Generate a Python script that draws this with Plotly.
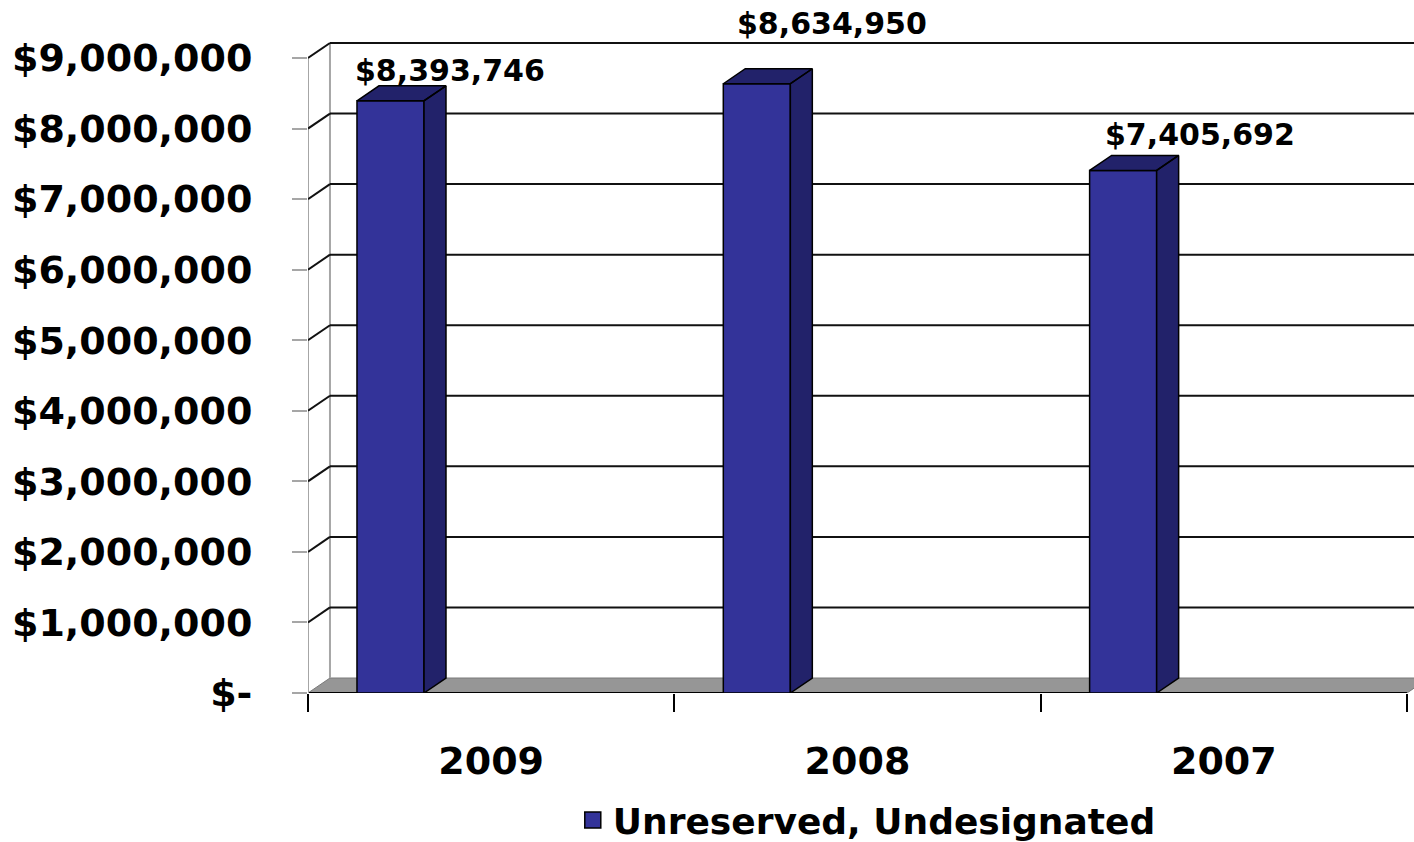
import plotly.graph_objects as go

# ---- data -------------------------------------------------------------
years = ["2009", "2008", "2007"]
balances = [8393746, 8634950, 7405692]
series_name = "Unreserved, Undesignated"

y_ticks = [0, 1000000, 2000000, 3000000, 4000000, 5000000,
           6000000, 7000000, 8000000, 9000000]
y_tick_text = ["$-"] + [f"${v:,}" for v in y_ticks[1:]]

# ---- pseudo-3D geometry (axis units) ----------------------------------
X_MAX = 3.0192          # right edge of the plotting area
Y_MAX = 9822000         # top edge of the plotting area
BAR_OFFSET = 0.2252     # bar centre within each category slot
BAR_WIDTH = 0.183
DEPTH_X = 0.06          # horizontal depth of the back wall
DEPTH_Y = 212600        # vertical depth of the back wall

# value-label placement: horizontal offset (axis units), lift (px)
label_dx = [0.162, 0.205, 0.209]
label_lift = [30, 60, 36]

FRONT = "#333399"
SHADE = "#22226a"
FLOOR = "#969696"
WALL_EDGE = "#a6a6a6"
GRID = "#111111"
FONT = "DejaVu Sans"

fig = go.Figure()

# front faces of the columns
bar_x = [i + BAR_OFFSET for i in range(len(years))]
fig.add_trace(go.Bar(
    x=bar_x, y=balances, width=BAR_WIDTH,
    marker=dict(color=FRONT, line=dict(color="black", width=1.5)),
    showlegend=False, hoverinfo="skip",
))

# side and top faces of the columns
for xc, v in zip(bar_x, balances):
    xl, xr = xc - BAR_WIDTH / 2, xc + BAR_WIDTH / 2
    xs = [xr, xr + DEPTH_X, xr + DEPTH_X, xr, xr, None,
          xl, xl + DEPTH_X, xr + DEPTH_X, xr, xl]
    ys = [0, DEPTH_Y, v + DEPTH_Y, v, 0, None,
          v, v + DEPTH_Y, v + DEPTH_Y, v, v]
    fig.add_trace(go.Scatter(
        x=xs, y=ys, mode="lines", fill="toself", fillcolor=SHADE,
        line=dict(color="black", width=1.5),
        showlegend=False, hoverinfo="skip",
    ))

# legend entry
fig.add_trace(go.Scatter(
    x=[None], y=[None], mode="markers", name=series_name,
    marker=dict(symbol="square", size=19, color=FRONT,
                line=dict(color="black", width=1.5)),
))

shapes = []
# floor slab
shapes.append(dict(
    type="path", xref="x", yref="y", layer="below",
    path=f"M 0,0 L 3,0 L {3 + DEPTH_X},{DEPTH_Y} L {DEPTH_X},{DEPTH_Y} Z",
    fillcolor=FLOOR, line=dict(color="#7a7a7a", width=1),
))
shapes.append(dict(type="line", xref="x", yref="y", layer="below",
                   x0=0, y0=0, x1=3, y1=0,
                   line=dict(color="black", width=2)))
# left wall edges
shapes.append(dict(type="line", xref="x", yref="y", layer="below",
                   x0=0, y0=0, x1=0, y1=y_ticks[-1],
                   line=dict(color=WALL_EDGE, width=2)))
shapes.append(dict(type="line", xref="x", yref="y", layer="below",
                   x0=DEPTH_X, y0=DEPTH_Y, x1=DEPTH_X,
                   y1=y_ticks[-1] + DEPTH_Y,
                   line=dict(color=WALL_EDGE, width=2)))
# gridlines on the left and back walls
for v in y_ticks[1:]:
    shapes.append(dict(type="line", xref="x", yref="y", layer="below",
                       x0=0, y0=v, x1=DEPTH_X, y1=v + DEPTH_Y,
                       line=dict(color=GRID, width=2)))
    shapes.append(dict(type="line", xref="x", yref="y", layer="below",
                       x0=DEPTH_X, y0=v + DEPTH_Y, x1=X_MAX, y1=v + DEPTH_Y,
                       line=dict(color=GRID, width=2)))

# value labels above the columns
annotations = []
for xc, v, dx, lift in zip(bar_x, balances, label_dx, label_lift):
    annotations.append(dict(
        x=xc + dx, y=v, xref="x", yref="y", yshift=lift,
        text=f"${v:,}", showarrow=False,
        xanchor="center", yanchor="middle",
        font=dict(family=FONT, size=30, color="black", weight="bold"),
    ))

fig.update_layout(
    width=1414, height=842,
    margin=dict(l=308, r=0, t=0, b=149),
    paper_bgcolor="white", plot_bgcolor="white",
    shapes=shapes, annotations=annotations,
    showlegend=True,
    legend=dict(
        orientation="h", xref="container", yref="container",
        x=0.613, xanchor="center", y=0.026, yanchor="middle",
        font=dict(family=FONT, size=36, color="black", weight="bold"),
        itemsizing="trace",
    ),
    xaxis=dict(
        range=[0, X_MAX], showgrid=False, zeroline=False, showline=False,
        tickmode="array", tickvals=[i + 0.5 for i in range(len(years))],
        ticktext=years, ticks="", ticklabelstandoff=42,
        tickfont=dict(family=FONT, size=38, color="black", weight="bold"),
        minor=dict(tickmode="array", tickvals=[0, 1, 2, 3], ticks="outside",
                   ticklen=18, tickwidth=1.5, tickcolor="black",
                   showgrid=False),
        fixedrange=True,
    ),
    yaxis=dict(
        range=[0, Y_MAX], showgrid=False, zeroline=False, showline=False,
        tickmode="array", tickvals=y_ticks, ticktext=y_tick_text,
        ticks="outside", ticklen=15, tickwidth=2, tickcolor=WALL_EDGE,
        ticklabelstandoff=32,
        tickfont=dict(family=FONT, size=38, color="black", weight="bold"),
        fixedrange=True,
    ),
)

fig.write_html("out.html")
